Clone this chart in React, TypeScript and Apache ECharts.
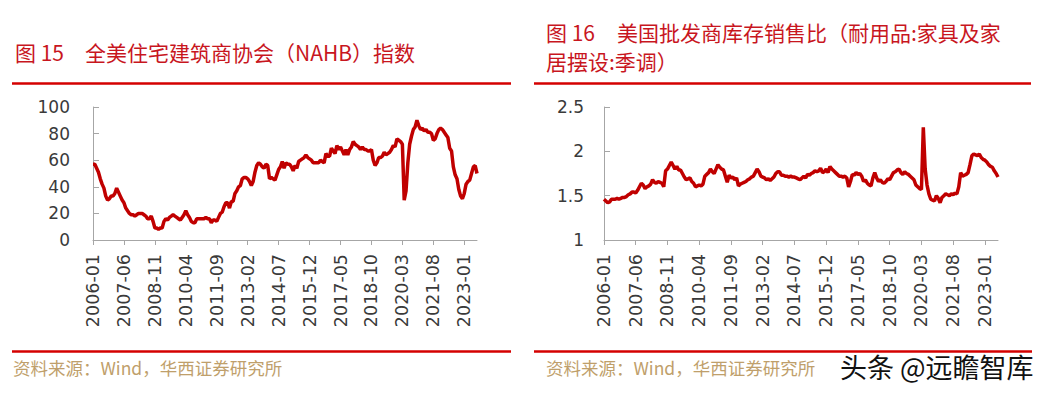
import React, { useEffect, useRef } from "react";
import * as echarts from "echarts";

// Months 2006-01 .. 2023-08
const startYear = 2006;
const monthCount = 212;
const months: string[] = [];
for (let i = 0; i < monthCount; i++) {
  const y = startYear + Math.floor(i / 12);
  const m = (i % 12) + 1;
  months.push(`${y}-${m < 10 ? "0" + m : m}`);
}

// NAHB housing market index
const nahb: number[] = [
  57, 57, 54, 51, 46, 42, 39, 33, 30, 31, 33, 33, // 2006
  35, 39, 36, 33, 30, 28, 24, 22, 20, 19, 19, 18, // 2007
  19, 20, 20, 20, 19, 18, 16, 16, 18, 14, 9, 9, // 2008
  8, 9, 9, 14, 16, 15, 17, 18, 19, 18, 17, 16, // 2009
  15, 17, 19, 22, 19, 17, 14, 13, 13, 16, 16, 16, // 2010
  16, 16, 17, 16, 16, 13, 15, 15, 14, 17, 20, 21, // 2011
  25, 28, 28, 24, 29, 29, 35, 37, 40, 41, 46, 47, // 2012
  47, 46, 44, 41, 44, 51, 56, 58, 57, 55, 54, 57, // 2013
  56, 46, 47, 46, 45, 49, 53, 55, 59, 54, 58, 57, // 2014
  57, 55, 52, 56, 54, 59, 60, 61, 62, 64, 62, 61, // 2015
  60, 58, 58, 58, 58, 60, 59, 58, 65, 63, 63, 69, // 2016
  67, 65, 71, 68, 70, 67, 64, 68, 64, 68, 70, 74, // 2017
  72, 71, 70, 68, 70, 68, 68, 67, 67, 68, 60, 56, // 2018
  58, 62, 62, 63, 66, 64, 65, 66, 68, 71, 70, 76, // 2019
  75, 74, 72, 30, 37, 58, 72, 78, 83, 85, 90, 86, // 2020
  83, 84, 82, 83, 81, 81, 80, 75, 76, 80, 83, 84, // 2021
  83, 81, 79, 77, 69, 67, 55, 49, 46, 38, 33, 31, // 2022
  35, 42, 44, 45, 50, 55, 56, 50, // 2023
];

// Wholesale inventory/sales ratio: furniture & home furnishings (SA)
const ratio: number[] = [
  1.46, 1.44, 1.42, 1.43, 1.46, 1.46, 1.46, 1.47, 1.46, 1.47, 1.48, 1.48, // 2006
  1.49, 1.51, 1.52, 1.54, 1.54, 1.53, 1.56, 1.6, 1.64, 1.62, 1.58, 1.6, // 2007
  1.61, 1.63, 1.68, 1.65, 1.64, 1.66, 1.65, 1.64, 1.6, 1.78, 1.8, 1.84, // 2008
  1.88, 1.84, 1.8, 1.83, 1.79, 1.79, 1.75, 1.71, 1.68, 1.69, 1.7, 1.66, // 2009
  1.64, 1.6, 1.61, 1.62, 1.61, 1.63, 1.72, 1.74, 1.76, 1.8, 1.77, 1.75, // 2010
  1.8, 1.85, 1.82, 1.8, 1.79, 1.72, 1.65, 1.73, 1.7, 1.71, 1.68, 1.7, // 2011
  1.61, 1.63, 1.64, 1.65, 1.66, 1.68, 1.69, 1.71, 1.72, 1.76, 1.8, 1.77, // 2012
  1.72, 1.71, 1.7, 1.68, 1.69, 1.67, 1.69, 1.71, 1.75, 1.77, 1.77, 1.73, // 2013
  1.73, 1.72, 1.72, 1.71, 1.72, 1.71, 1.71, 1.7, 1.69, 1.68, 1.7, 1.72, // 2014
  1.7, 1.74, 1.73, 1.75, 1.76, 1.78, 1.77, 1.78, 1.81, 1.76, 1.77, 1.8, // 2015
  1.76, 1.83, 1.8, 1.78, 1.76, 1.74, 1.72, 1.72, 1.71, 1.72, 1.7, 1.6, // 2016
  1.66, 1.74, 1.73, 1.76, 1.74, 1.75, 1.72, 1.66, 1.68, 1.64, 1.62, 1.61, // 2017
  1.7, 1.76, 1.7, 1.66, 1.68, 1.65, 1.64, 1.66, 1.69, 1.68, 1.72, 1.76, // 2018
  1.77, 1.79, 1.8, 1.76, 1.74, 1.77, 1.75, 1.74, 1.72, 1.7, 1.68, 1.62, // 2019
  1.6, 1.58, 1.57, 2.27, 1.8, 1.62, 1.52, 1.46, 1.45, 1.44, 1.5, 1.47, // 2020
  1.42, 1.48, 1.5, 1.52, 1.51, 1.5, 1.52, 1.51, 1.53, 1.52, 1.6, 1.76, // 2021
  1.72, 1.73, 1.74, 1.76, 1.85, 1.95, 1.97, 1.96, 1.95, 1.97, 1.93, 1.91, // 2022
  1.9, 1.88, 1.85, 1.83, 1.82, 1.78, 1.75, 1.71, // 2023
];

const leftTitleNo = "图 15";
const leftTitle = "全美住宅建筑商协会（NAHB）指数";
const rightTitleNo = "图 16";
const rightTitle1 = "美国批发商库存销售比（耐用品:家具及家";
const rightTitle2 = "居摆设:季调）";
const sourceText = "资料来源：Wind，华西证券研究所";
const watermark = "头条 @远瞻智库";

const RED = "#C00000";
const TITLE_RED = "#C8161E";
const RULE_RED = "#D40000";
const TAN = "#BF9F6B";
const AXIS = "#A6A6A6";
const LABEL = "#3A3A3A";
const NUM_FONT = "DejaVu Sans";
const CJK_FONT = "Noto Sans CJK SC";

function xAxisCfg(gridIndex: number) {
  return {
    type: "category" as const,
    gridIndex,
    data: months,
    boundaryGap: false,
    axisLine: { lineStyle: { color: AXIS, width: 1 } },
    axisTick: { show: true, interval: 16, length: 5, lineStyle: { color: AXIS } },
    axisLabel: {
      interval: 16,
      rotate: 90,
      margin: 14,
      color: LABEL,
      fontFamily: NUM_FONT,
      fontSize: 17.5,
    },
    splitLine: { show: false },
  };
}

function yAxisCfg(gridIndex: number, min: number, max: number, interval: number, margin: number) {
  return {
    type: "value" as const,
    gridIndex,
    min,
    max,
    interval,
    axisLine: { show: true, lineStyle: { color: AXIS, width: 1 } },
    axisTick: { show: true, inside: true, length: 6, lineStyle: { color: AXIS } },
    axisLabel: {
      margin,
      color: LABEL,
      fontFamily: NUM_FONT,
      fontSize: 17,
    },
    splitLine: { show: false },
  };
}

function rule(x1: number, x2: number, y: number, w: number) {
  return {
    type: "line",
    shape: { x1, y1: y, x2, y2: y },
    style: { stroke: RULE_RED, lineWidth: w },
    silent: true,
  };
}

function txt(text: string, x: number, y: number, size: number, color: string, extra: any = {}) {
  return {
    type: "text",
    x,
    y,
    style: {
      text,
      fill: color,
      font: `${size}px "${CJK_FONT}"`,
      textVerticalAlign: "middle",
      verticalAlign: "middle",
      ...extra,
    },
    silent: true,
  };
}

export default function App() {
  const ref = useRef<HTMLDivElement>(null);
  useEffect(() => {
    if (!ref.current) return;
    const chart = echarts.init(ref.current, undefined, { renderer: "svg" });
    chart.setOption({
      animation: false,
      backgroundColor: "#ffffff",
      grid: [
        { left: 93, top: 107, width: 384, height: 133 },
        { left: 604, top: 107, width: 394, height: 133 },
      ],
      xAxis: [xAxisCfg(0), xAxisCfg(1)],
      yAxis: [yAxisCfg(0, 0, 100, 20, 23), yAxisCfg(1, 1, 2.5, 0.5, 20)],
      series: [
        {
          type: "line",
          xAxisIndex: 0,
          yAxisIndex: 0,
          data: nahb,
          showSymbol: false,
          symbol: "none",
          lineStyle: { color: RED, width: 3.5 },
          itemStyle: { color: RED },
        },
        {
          type: "line",
          xAxisIndex: 1,
          yAxisIndex: 1,
          data: ratio,
          showSymbol: false,
          symbol: "none",
          lineStyle: { color: RED, width: 3.5 },
          itemStyle: { color: RED },
        },
      ],
      graphic: [
        txt(leftTitleNo, 15, 52, 21, TITLE_RED),
        txt(leftTitle, 85, 52, 21, TITLE_RED),
        txt(rightTitleNo, 546, 32, 21, TITLE_RED),
        txt(rightTitle1, 617, 32, 21, TITLE_RED),
        txt(rightTitle2, 546, 61, 21, TITLE_RED),
        rule(12, 511, 83.5, 2.5),
        rule(534, 1031, 83.5, 2.5),
        rule(12, 511, 351.5, 2.5),
        rule(534, 1032, 351.5, 2.5),
        txt(sourceText, 13, 367, 17.5, TAN),
        txt(sourceText, 546, 367, 17.5, TAN),
        txt(watermark, 840, 366, 27, "#111111", { stroke: "#ffffff", lineWidth: 2 }),
      ],
    });
    return () => chart.dispose();
  }, []);
  return (
    <div
      ref={ref}
      style={{ position: "absolute", left: 0, top: 0, width: 1044, height: 393 }}
    />
  );
}
